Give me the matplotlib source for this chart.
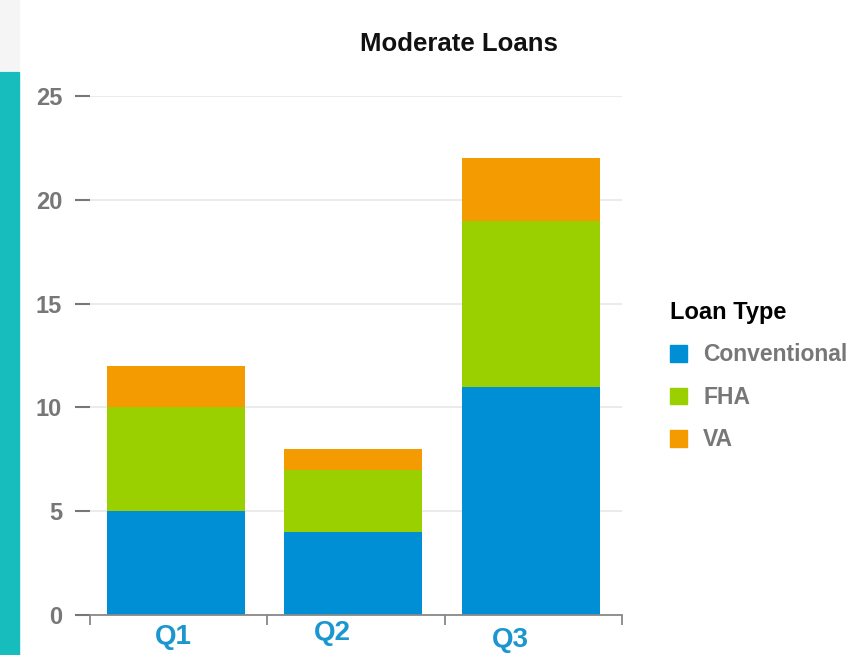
import matplotlib.pyplot as plt
from matplotlib.patches import Rectangle, Patch

# data
quarters = ["Q1", "Q2", "Q3"]
conventional = [5, 4, 11]
fha = [5, 3, 8]
va = [2, 1, 3]
loan_types = ["Conventional", "FHA", "VA"]
colors = ["#008fd5", "#9bd000", "#f39b00"]

plt.rcParams['font.family'] = ['Liberation Sans', 'DejaVu Sans']

fig = plt.figure(figsize=(8.53, 6.55), dpi=100)
W, H = 853, 655

# teal strip on the left and grey top corner
fig.patches.append(Rectangle((0, 0), 19 / W, 1 - 72 / H, transform=fig.transFigure,
                             color="#17bdbd", zorder=0))
fig.patches.append(Rectangle((0, 1 - 70 / H), 19 / W, 70 / H, transform=fig.transFigure,
                             color="#f5f5f5", zorder=0))

ax = fig.add_axes([90 / W, 1 - 615 / H, (622 - 90) / W, (615 - 96) / H])

# bars sit a touch left of the category centres in the original
x = [i - 0.015 for i in range(len(quarters))]
bottom2 = [a + b for a, b in zip(conventional, fha)]
ax.bar(x, conventional, width=0.78, color=colors[0], zorder=2)
ax.bar(x, fha, width=0.78, bottom=conventional, color=colors[1], zorder=2)
ax.bar(x, va, width=0.78, bottom=bottom2, color=colors[2], zorder=2)

ax.set_xlim(-0.5, 2.5)
ax.set_ylim(0, 25)

# y axis
ax.set_yticks([0, 5, 10, 15, 20, 25])
ax.tick_params(axis='y', length=11, width=1.5, color="#777777", pad=9,
               labelsize=17, labelcolor="#777777")
for lbl in ax.get_yticklabels():
    lbl.set_fontweight('bold')
ax.grid(axis='y', color="#e8e8e8", linewidth=1.2, zorder=0)

# x axis: ticks at category boundaries
ax.set_xticks([-0.5, 0.5, 1.5, 2.5])
ax.set_xticklabels([])
ax.tick_params(axis='x', length=7, width=1.3, color="#888888")

for s in ["top", "right", "left"]:
    ax.spines[s].set_visible(False)
ax.spines["bottom"].set_color("#888888")
ax.spines["bottom"].set_linewidth(1.3)

# quarter labels (slightly offset as in original)
dx = [-0.03, -0.135, -0.13]
dy = [-0.043, -0.034, -0.048]
for i, q in enumerate(quarters):
    ax.text(i + dx[i], dy[i], q, transform=ax.get_xaxis_transform(),
            ha='center', va='center', fontsize=20, fontweight='bold', color="#1b96cf")

fig.text(459 / W, 1 - 44 / H, "Moderate Loans", ha='center', va='center',
         fontsize=18.5, fontweight='bold', color="#111111")

handles = [Patch(color=c) for c in colors]
leg = fig.legend(handles, loan_types, loc='upper left',
                 bbox_to_anchor=(670 / W, 1 - 301 / H), frameon=False,
                 borderaxespad=0, borderpad=0,
                 title="Loan Type", alignment='left',
                 title_fontproperties={'weight': 'bold', 'size': 17},
                 prop={'weight': 'bold', 'size': 16.5}, labelcolor="#777777",
                 handlelength=0.75, handleheight=0.75, handletextpad=0.7,
                 labelspacing=0.85)

fig.savefig("out.png", dpi=100)
